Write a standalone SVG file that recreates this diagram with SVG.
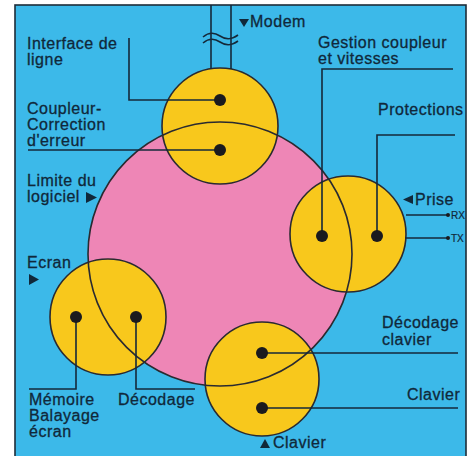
<svg xmlns="http://www.w3.org/2000/svg" width="475" height="456" viewBox="0 0 475 456">
<style>
.t{font-family:"Liberation Sans",Arial,sans-serif;font-size:16px;letter-spacing:0.5px;fill:#10283a;stroke:#10283a;stroke-width:0.3}
.s{font-family:"Liberation Sans",Arial,sans-serif;font-size:10px;fill:#10283a;stroke:#10283a;stroke-width:0.2}
.ln{fill:none;stroke:#15293a;stroke-width:1.6}
.out{fill:none;stroke:#2a2a30;stroke-width:1.6}
.y{fill:#f8c81c}
.dot{fill:#1a1a1e}
.tri{fill:#10283a}
</style>
<rect x="0" y="0" width="475" height="456" fill="#ffffff"/>
<rect x="15" y="5" width="451" height="452" fill="#3cb9e9" stroke="#1d2c38" stroke-width="1.6"/>

<g id="pink">
<circle cx="220" cy="254" r="132" fill="#ee86b6"/>
</g>
<g id="node-ligne"><circle class="y" cx="220" cy="126" r="58"/></g>
<g id="node-prise"><circle class="y" cx="348" cy="234" r="58"/></g>
<g id="node-ecran"><circle class="y" cx="108" cy="317" r="58"/></g>
<g id="node-clavier"><circle class="y" cx="262" cy="379" r="57"/></g>

<g id="outlines">
<circle class="out" cx="220" cy="254" r="132"/>
<circle class="out" cx="220" cy="126" r="58"/>
<circle class="out" cx="348" cy="234" r="58"/>
<circle class="out" cx="108" cy="317" r="58"/>
<circle class="out" cx="262" cy="379" r="57"/>
</g>

<g id="connectors">
<line class="ln" x1="211" y1="5" x2="211" y2="69"/>
<line class="ln" x1="231" y1="5" x2="231" y2="69"/>
<path class="ln" d="M203,37 C209,32 214,32 220,36 S231,40 238,35"/>
<path class="ln" d="M203,43 C209,38 214,38 220,42 S231,46 238,41"/>
<polyline class="ln" points="220,100 129,100 129,38"/>
<polyline class="ln" points="220,150 28,150"/>
<polyline class="ln" points="322,236 322,69 453,69"/>
<polyline class="ln" points="377,236 377,135 455,135"/>
<line class="ln" x1="406" y1="215" x2="448" y2="215"/>
<line class="ln" x1="405" y1="238" x2="448" y2="238"/>
<polyline class="ln" points="76,317 76,389 29,389"/>
<polyline class="ln" points="136,317 136,389 195,389"/>
<line class="ln" x1="262" y1="353" x2="458" y2="353"/>
<line class="ln" x1="262" y1="408" x2="458" y2="408"/>
</g>

<g id="dots">
<circle class="dot" cx="220" cy="100" r="6"/>
<circle class="dot" cx="220" cy="150" r="6"/>
<circle class="dot" cx="322" cy="236" r="6"/>
<circle class="dot" cx="377" cy="236" r="6"/>
<circle class="dot" cx="76" cy="317" r="6"/>
<circle class="dot" cx="136" cy="317" r="6"/>
<circle class="dot" cx="262" cy="353" r="6"/>
<circle class="dot" cx="262" cy="408" r="6"/>
<circle class="dot" cx="448" cy="215" r="2"/>
<circle class="dot" cx="448" cy="238" r="2"/>
</g>

<g id="labels">
<polygon class="tri" points="239,19 249,19 244,27"/>
<text class="t" x="250" y="27">Modem</text>
<text class="t" x="27" y="49">Interface de</text>
<text class="t" x="27" y="65">ligne</text>
<text class="t" x="27" y="114">Coupleur-</text>
<text class="t" x="27" y="130">Correction</text>
<text class="t" x="27" y="146">d'erreur</text>
<text class="t" x="318" y="48">Gestion coupleur</text>
<text class="t" x="318" y="64">et vitesses</text>
<text class="t" x="378" y="115">Protections</text>
<text class="t" x="27" y="186">Limite du</text>
<text class="t" x="27" y="202">logiciel</text>
<polygon class="tri" points="86,192 97,197.5 86,203"/>
<polygon class="tri" points="413,195 413,204 403,199.5"/>
<text class="t" x="415" y="205">Prise</text>
<text class="s" x="451" y="219">RX</text>
<text class="s" x="451" y="242">TX</text>
<text class="t" x="27" y="268">Ecran</text>
<polygon class="tri" points="29,274 39,279.5 29,285"/>
<text class="t" x="382" y="328">Décodage</text>
<text class="t" x="382" y="345">clavier</text>
<text class="t" x="407" y="400">Clavier</text>
<text class="t" x="29" y="405">Mémoire</text>
<text class="t" x="29" y="421">Balayage</text>
<text class="t" x="29" y="437">écran</text>
<text class="t" x="118" y="405">Décodage</text>
<polygon class="tri" points="260,448 270,448 265,439"/>
<text class="t" x="273" y="448">Clavier</text>
</g>
</svg>
